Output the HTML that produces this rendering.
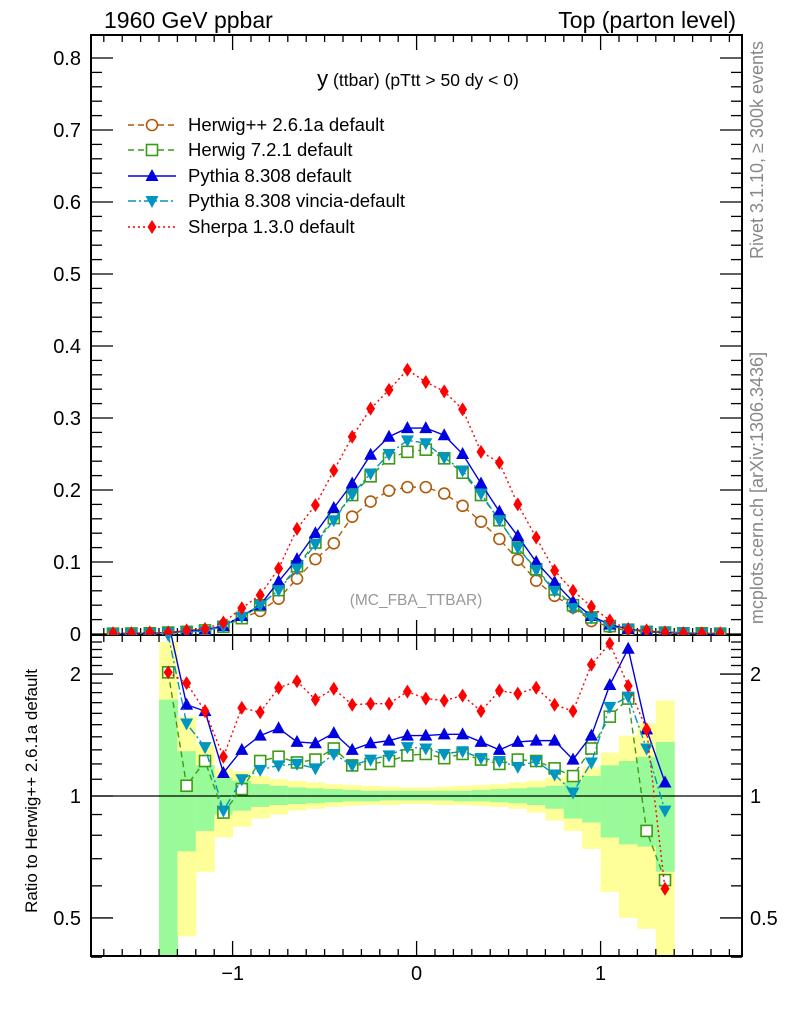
<!DOCTYPE html>
<html><head><meta charset="utf-8"><style>
body{margin:0;background:#fff;}
svg{display:block;font-family:"Liberation Sans",Arial,sans-serif;}
</style></head><body>
<svg id="chart" width="786" height="1024" viewBox="0 0 786 1024" xmlns="http://www.w3.org/2000/svg">
<defs>
<clipPath id="clipMain"><rect x="91" y="35" width="651" height="600"/></clipPath>
<clipPath id="clipRatio"><rect x="91" y="635" width="651" height="321"/></clipPath>
</defs>
<text x="104" y="28" font-size="23">1960 GeV ppbar</text>
<text x="736" y="28" font-size="23" text-anchor="end">Top (parton level)</text>
<text x="418" y="86" font-size="17.5" text-anchor="middle"><tspan font-size="22">y</tspan> (ttbar) (pTtt &gt; 50 dy &lt; 0)</text>
<text x="416" y="605" font-size="15.5" fill="#999" text-anchor="middle">(MC_FBA_TTBAR)</text>
<text transform="translate(763,150) rotate(-90)" font-size="18" fill="#888" text-anchor="middle">Rivet 3.1.10, ≥ 300k events</text>
<text transform="translate(763,488) rotate(-90)" font-size="18" fill="#888" text-anchor="middle">mcplots.cern.ch [arXiv:1306.3436]</text>
<text transform="translate(37,791) rotate(-90)" font-size="17" text-anchor="middle">Ratio to Herwig++ 2.6.1a default</text>
<g id="bands" clip-path="url(#clipRatio)"></g>
<g id="axes"></g>
<g id="mainSeries" clip-path="url(#clipMain)"></g>
<g id="ratioSeries" clip-path="url(#clipRatio)"></g>
<g id="legend"></g>
</svg>
<script>
// ---- data ----
const xCenters = [-1.65,-1.55,-1.45,-1.35,-1.25,-1.15,-1.05,-0.95,-0.85,-0.75,-0.65,-0.55,-0.45,-0.35,-0.25,-0.15,-0.05,0.05,0.15,0.25,0.35,0.45,0.55,0.65,0.75,0.85,0.95,1.05,1.15,1.25,1.35,1.45,1.55,1.65];
const herwigppMain = [0.0003,0.0005,0.0008,0.001,0.003,0.0045,0.012,0.022,0.032,0.049,0.077,0.104,0.126,0.163,0.184,0.199,0.204,0.204,0.195,0.178,0.156,0.132,0.103,0.074,0.053,0.037,0.018,0.010,0.004,0.003,0.002,0.001,0.0005,0.0003];
const herwig7Main = [0.0005,0.0007,0.001,0.002,0.003,0.005,0.010,0.022,0.040,0.061,0.094,0.127,0.161,0.193,0.219,0.244,0.253,0.256,0.244,0.224,0.193,0.158,0.120,0.090,0.062,0.040,0.023,0.011,0.006,0.003,0.002,0.001,0.001,0.0005];
const pythiaMain = [0.0005,0.0007,0.001,0.002,0.004,0.006,0.011,0.025,0.040,0.073,0.104,0.140,0.175,0.209,0.249,0.274,0.286,0.286,0.276,0.250,0.209,0.170,0.136,0.100,0.072,0.045,0.025,0.013,0.007,0.004,0.002,0.001,0.0005,0.0003];
const vinciaMain = [0.0005,0.0007,0.001,0.002,0.003,0.004,0.011,0.024,0.040,0.061,0.091,0.125,0.158,0.194,0.223,0.250,0.269,0.265,0.245,0.227,0.195,0.158,0.120,0.089,0.060,0.036,0.023,0.011,0.007,0.004,0.003,0.002,0.001,0.001];
const sherpaMain = [0.001,0.001,0.002,0.002,0.005,0.007,0.016,0.036,0.054,0.091,0.146,0.179,0.227,0.274,0.313,0.339,0.367,0.350,0.337,0.312,0.253,0.238,0.180,0.134,0.088,0.060,0.038,0.019,0.006,0.005,0.002,0.001,0.001,0.001];

const ratioX = [-1.35,-1.25,-1.15,-1.05,-0.95,-0.85,-0.75,-0.65,-0.55,-0.45,-0.35,-0.25,-0.15,-0.05,0.05,0.15,0.25,0.35,0.45,0.55,0.65,0.75,0.85,0.95,1.05,1.15,1.25,1.35];
const herwig7Ratio = [2.02,1.06,1.22,0.91,1.04,1.22,1.25,1.21,1.23,1.31,1.19,1.20,1.22,1.26,1.27,1.24,1.27,1.23,1.20,1.23,1.22,1.17,1.12,1.31,1.57,1.74,0.82,0.62];
const pythiaRatio = [2.7,1.68,1.62,1.14,1.30,1.41,1.47,1.36,1.35,1.43,1.30,1.35,1.37,1.41,1.41,1.42,1.42,1.36,1.30,1.36,1.37,1.37,1.23,1.41,1.88,2.31,1.46,1.08];
const vinciaRatio = [2.5,1.51,1.32,0.92,1.10,1.16,1.19,1.20,1.17,1.27,1.19,1.23,1.26,1.32,1.31,1.27,1.29,1.24,1.22,1.18,1.22,1.13,1.02,1.21,1.66,1.76,1.31,0.92];
const sherpaRatio = [2.02,1.90,1.62,1.25,1.65,1.61,1.85,1.92,1.73,1.84,1.68,1.69,1.69,1.81,1.74,1.72,1.77,1.62,1.82,1.79,1.85,1.68,1.62,2.11,2.38,1.87,1.46,0.59];

const yellowHi = [2.4,1.57,1.34,1.17,1.15,1.12,1.10,1.09,1.08,1.07,1.065,1.06,1.055,1.05,1.05,1.055,1.06,1.065,1.07,1.08,1.09,1.11,1.13,1.18,1.28,1.41,1.51,1.72];
const greenHi = [1.73,1.29,1.19,1.11,1.09,1.07,1.06,1.05,1.045,1.04,1.035,1.03,1.03,1.03,1.03,1.03,1.03,1.035,1.04,1.045,1.05,1.06,1.08,1.12,1.19,1.22,1.25,1.36];
const greenLo = [0.3,0.73,0.82,0.90,0.92,0.94,0.95,0.955,0.96,0.965,0.97,0.97,0.975,0.975,0.975,0.975,0.97,0.97,0.965,0.96,0.95,0.93,0.88,0.86,0.79,0.76,0.75,0.65];
const yellowLo = [0.3,0.45,0.65,0.79,0.84,0.88,0.90,0.92,0.93,0.94,0.945,0.95,0.95,0.955,0.955,0.95,0.95,0.945,0.94,0.93,0.91,0.87,0.82,0.74,0.58,0.50,0.47,0.3];

const mainYTicks = [0,0.1,0.2,0.3,0.4,0.5,0.6,0.7,0.8];
const mainYLabels = ["0","0.1","0.2","0.3","0.4","0.5","0.6","0.7","0.8"];
const xTickLabels = ["−1","0","1"];
const xTickVals = [-1,0,1];
const ratioLabelVals = [0.5,1,2];
const ratioLabels = ["0.5","1","2"];

// ---- scales ----
const X0=91, X1=742, MT=35, MB=635, RB=956;
const xs = c => 416.6 + 184*c;
const ys = v => 634 - 720*v;
const yr = r => 796 - 405*Math.log10(r);
const NS='http://www.w3.org/2000/svg';
function el(tag, attrs, parent){const e=document.createElementNS(NS,tag);for(const k in attrs)e.setAttribute(k,attrs[k]);parent.appendChild(e);return e;}

// ---- bands ----
const bands=document.getElementById('bands');
ratioX.forEach((c,i)=>{
  const r1=el('rect',{x:xs(c-0.05),y:yr(yellowHi[i]),width:184*0.1+0.5,height:yr(yellowLo[i])-yr(yellowHi[i]),fill:'#ffff99'},bands);
  
  
  const r2=el('rect',{x:xs(c-0.05),y:yr(greenHi[i]),width:184*0.1+0.5,height:yr(greenLo[i])-yr(greenHi[i]),fill:'#99fa99'},bands);
  
  
});

// ---- axes ----
const ax=document.getElementById('axes');
const f1=el('rect',{x:X0,y:MT,width:X1-X0,height:MB-MT,fill:'none',stroke:'#000','stroke-width':2},ax);


const f2=el('rect',{x:X0,y:MB,width:X1-X0,height:RB-MB,fill:'none',stroke:'#000','stroke-width':2},ax);


const one=el('line',{x1:X0,x2:X1,y1:yr(1),y2:yr(1),stroke:'#000','stroke-width':1.3},ax);


for(let v=0; v<=0.8001; v+=0.02){
  const major = Math.abs(v*10-Math.round(v*10))<1e-6;
  const L = major?22:11;
  el('line',{x1:X0,x2:X0+L,y1:ys(v),y2:ys(v),stroke:'#000','stroke-width':1.3},ax);
  el('line',{x1:X1-L,x2:X1,y1:ys(v),y2:ys(v),stroke:'#000','stroke-width':1.3},ax);
}
mainYTicks.forEach((v,i)=>{
  const t=el('text',{x:81,y:ys(v)+7,'font-size':20,'text-anchor':'end'},ax);
  t.textContent=mainYLabels[i];
  
  
});
for(let k=-17;k<=17;k++){
  const c=k/10, major=(k%10===0);
  const L=major?15:7;
  [MT, MB].forEach(yb=>{
    el('line',{x1:xs(c),x2:xs(c),y1:yb,y2:yb+L,stroke:'#000','stroke-width':1.3},ax);
  });
  [MB, RB].forEach(yb=>{
    el('line',{x1:xs(c),x2:xs(c),y1:yb-L,y2:yb,stroke:'#000','stroke-width':1.3},ax);
  });
}
xTickVals.forEach((v,i)=>{
  const t=el('text',{x:xs(v),y:980,'font-size':20,'text-anchor':'middle'},ax);
  t.textContent=xTickLabels[i];
  
  
});
const rt=[0.4,0.5,0.6,0.7,0.8,0.9,1,1.1,1.2,1.3,1.4,1.5,1.6,1.7,1.8,1.9,2,2.1,2.2,2.3,2.4,2.5];
rt.forEach(r=>{
  const major=(r===0.5||r===1||r===2);
  const L=major?22:11;
  el('line',{x1:X0,x2:X0+L,y1:yr(r),y2:yr(r),stroke:'#000','stroke-width':1.3},ax);
  el('line',{x1:X1-L,x2:X1,y1:yr(r),y2:yr(r),stroke:'#000','stroke-width':1.3},ax);
});
ratioLabelVals.forEach((v,i)=>{
  const t=el('text',{x:81,y:yr(v)+7,'font-size':20,'text-anchor':'end'},ax);
  t.textContent=ratioLabels[i];
  
  
  const t2=el('text',{x:750,y:yr(v)+7,'font-size':20},ax);
  t2.textContent=ratioLabels[i];
  
  
});

// ---- series ----
const series=[
 {name:'herwigpp',label:'Herwig++ 2.6.1a default',color:'#b05a08',dash:'6,4',marker:'circle',main:herwigppMain,ratio:null},
 {name:'herwig7',label:'Herwig 7.2.1 default',color:'#3d9a16',dash:'6,4',marker:'square',main:herwig7Main,ratio:herwig7Ratio},
 {name:'pythia',label:'Pythia 8.308 default',color:'#0000e0',dash:'',marker:'tri-up',main:pythiaMain,ratio:pythiaRatio},
 {name:'vincia',label:'Pythia 8.308 vincia-default',color:'#0096c0',dash:'8,3,2,3',marker:'tri-down',main:vinciaMain,ratio:vinciaRatio},
 {name:'sherpa',label:'Sherpa 1.3.0 default',color:'#ff0000',dash:'2,3',marker:'diamond',main:sherpaMain,ratio:sherpaRatio}
];
function marker(g,type,x,y,color){
  let m;
  if(type==='circle') m=el('circle',{cx:x,cy:y,r:5.5,fill:'#fff',stroke:color,'stroke-width':1.6},g);
  else if(type==='square') m=el('rect',{x:x-5.5,y:y-5.5,width:11,height:11,fill:'#fff',stroke:color,'stroke-width':1.6},g);
  else if(type==='tri-up') m=el('polygon',{points:`${x},${y-7} ${x-6.5},${y+5} ${x+6.5},${y+5}`,fill:color},g);
  else if(type==='tri-down') m=el('polygon',{points:`${x},${y+7} ${x-6.5},${y-5} ${x+6.5},${y-5}`,fill:color},g);
  else m=el('polygon',{points:`${x},${y-7} ${x-4.5},${y} ${x},${y+7} ${x+4.5},${y}`,fill:color},g);
  return m;
}
const mg=document.getElementById('mainSeries');
const rg=document.getElementById('ratioSeries');
series.forEach(s=>{
  const g=el('g',{},mg);
  
  
  const pts=xCenters.map((c,i)=>xs(c)+','+ys(s.main[i])).join(' ');
  el('polyline',{points:pts,fill:'none',stroke:s.color,'stroke-width':1.4,'stroke-dasharray':s.dash},g);
  xCenters.forEach((c,i)=>{
    const m=marker(g,s.marker,xs(c),ys(s.main[i]),s.color);
    
    
  });
  if(s.ratio){
    const g2=el('g',{},rg);
    
    
    const p2=ratioX.map((c,i)=>xs(c)+','+yr(s.ratio[i])).join(' ');
    el('polyline',{points:p2,fill:'none',stroke:s.color,'stroke-width':1.4,'stroke-dasharray':s.dash},g2);
    ratioX.forEach((c,i)=>{
      const m=marker(g2,s.marker,xs(c),yr(s.ratio[i]),s.color);
      
      
    });
  }
});

// ---- legend ----
const lg=document.getElementById('legend');
const legendY=[125,150,176,201,227];
series.forEach((s,i)=>{
  const g=el('g',{},lg);
  
  
  const y=legendY[i];
  el('line',{x1:128,x2:176,y1:y,y2:y,stroke:s.color,'stroke-width':1.4,'stroke-dasharray':s.dash},g);
  marker(g,s.marker,152,y,s.color);
  const t=el('text',{x:188,y:y+6,'font-size':18.5},g);
  t.textContent=s.label;
});
</script>
</body></html>
